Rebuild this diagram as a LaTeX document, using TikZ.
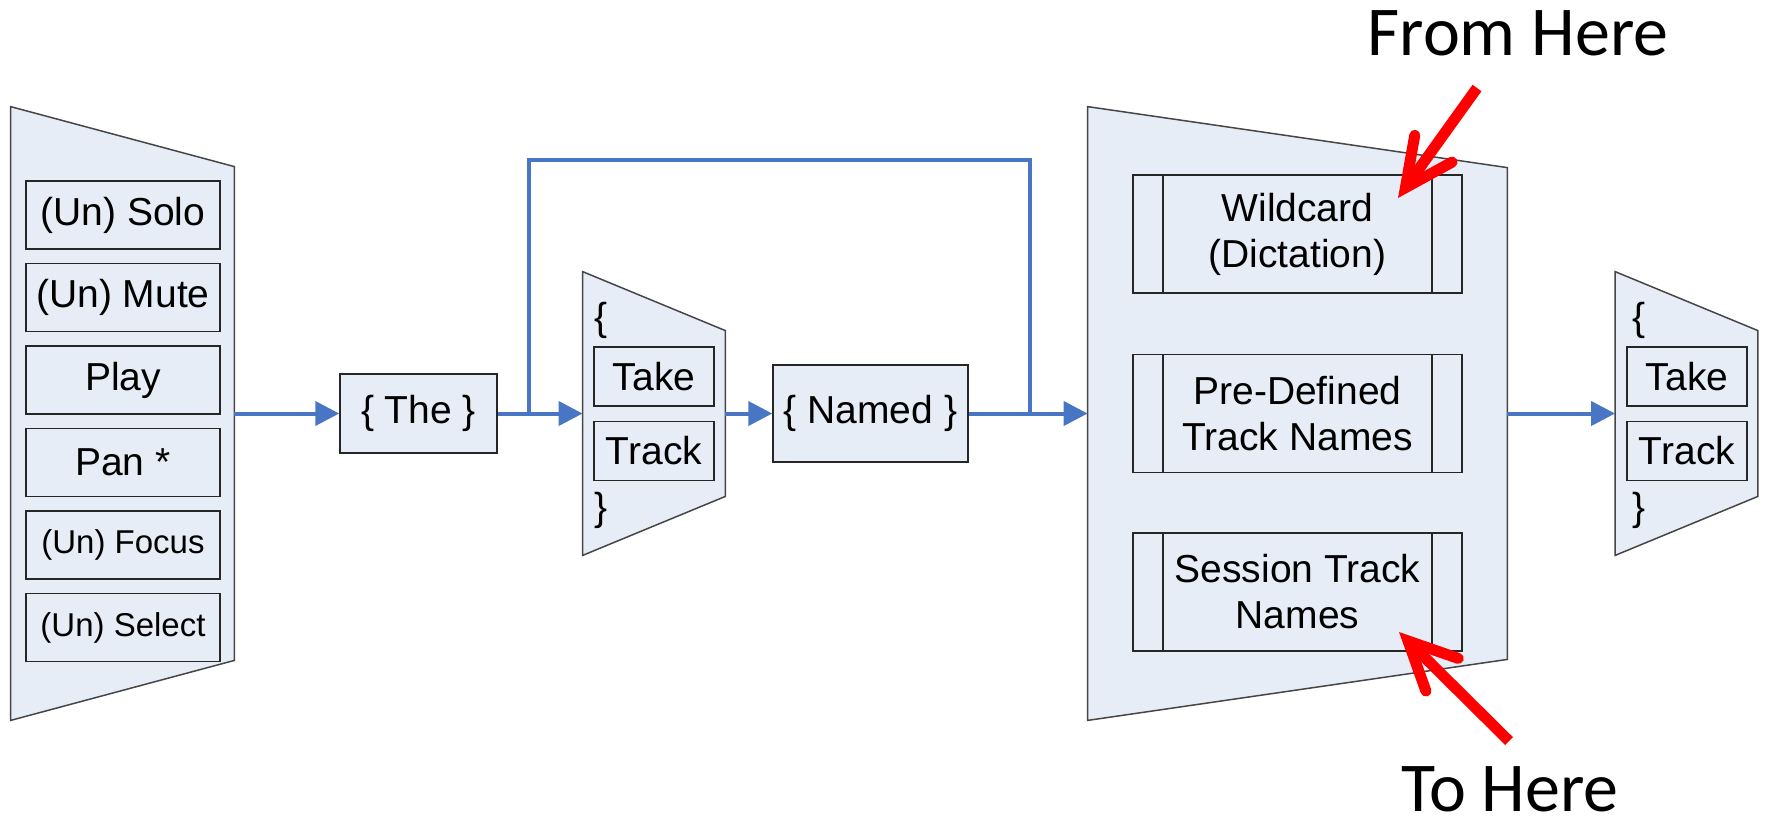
\documentclass[tikz,border=0pt]{standalone}
\usepackage{fontspec}
\setmainfont{Liberation Sans}
\newfontfamily\notefont{Carlito}
\usetikzlibrary{arrows.meta}

\definecolor{flowblue}{RGB}{72,118,196}
\definecolor{panelfill}{RGB}{231,237,247}
\definecolor{edgegray}{RGB}{70,70,70}

\begin{document}
\begin{tikzpicture}[x=0.5pt, y=-0.5pt,
  font=\fontsize{19.5}{23}\selectfont,
  hold/.style 2 args={inner sep=0pt, minimum width=#1, minimum height=#2},
  panel/.style={fill=panelfill, draw=edgegray, line width=0.75pt},
  item/.style={draw=black!85, fill=panelfill, line width=0.75pt, inner sep=0pt,
    minimum width=97pt, minimum height=34pt},
  word/.style={item, minimum width=60pt, minimum height=29.5pt},
  proc/.style={item, align=center, minimum width=164.5pt, minimum height=59pt,
    path picture={
      \draw[black!85, line width=0.75pt]
        ([xshift=15pt]path picture bounding box.north west) -- ([xshift=15pt]path picture bounding box.south west)
        ([xshift=-15pt]path picture bounding box.north east) -- ([xshift=-15pt]path picture bounding box.south east);}},
  brace/.style={anchor=west, inner sep=0pt},
  small/.style={font=\fontsize{16.5}{20}\selectfont},
  note/.style={anchor=base, inner sep=0pt, font=\notefont\fontsize{35}{40}\selectfont},
  link/.style={draw=flowblue, line width=2pt},
  flow/.style={link, -{Triangle[length=12pt,width=12pt]}},
  marker/.style={draw=red, line width=5.5pt,
    -{Straight Barb[length=24pt,width=23pt,line cap=round,line join=miter]}}]

\useasboundingbox (0,0) rectangle (1767,827);

% command list
\node[hold={111.5pt}{306.5pt}] (cmds) at (122.5,413.5) {};
\draw[panel] (cmds.north west) -- ([yshift=-30pt]cmds.north east) -- ([yshift=30pt]cmds.south east) -- (cmds.south west) -- cycle;
\node[item] (solo) at (123,215) {(Un) Solo};
\node[item] (mute) at (123,297.5) {(Un) Mute};
\node[item] (play) at (123,380) {Play};
\node[item] (pan) at (123,462.5) {Pan *};
\node[item, small] (focus) at (123,545) {(Un) Focus};
\node[item, small] (select) at (123,627.5) {(Un) Select};

\node[item, minimum width=78.5pt, minimum height=39.5pt] (the) at (418.5,413.5) {\{ The \}};

% take / track
\node[hold={71pt}{141.5pt}] (kind) at (654,413.5) {};
\draw[panel] (kind.north west) -- ([yshift=-29.5pt]kind.north east) -- ([yshift=29.5pt]kind.south east) -- (kind.south west) -- cycle;
\node[brace] (kindopen) at (594,320) {\{};
\node[word] (take) at (654,376.5) {Take};
\node[word] (track) at (654,451) {Track};
\node[brace] (kindclose) at (594,510) {\}};

\node[item, minimum width=97.5pt, minimum height=48.5pt] (named) at (870.5,413.5) {\{ Named \}};

% track name sources
\node[hold={209.5pt}{306.5pt}] (names) at (1297.5,413.5) {};
\draw[panel] (names.north west) -- ([yshift=-30.5pt]names.north east) -- ([yshift=30.5pt]names.south east) -- (names.south west) -- cycle;
\node[proc] (wild) at (1297.5,234) {Wildcard\\(Dictation)};
\node[proc] (predef) at (1297.5,413.5) {Pre-Defined\\Track Names};
\node[proc] (session) at (1297.5,592) {Session Track\\Names};

% trailing take / track
\node[hold={71pt}{141.5pt}] (kindb) at (1686.5,413.5) {};
\draw[panel] (kindb.north west) -- ([yshift=-29.5pt]kindb.north east) -- ([yshift=29.5pt]kindb.south east) -- (kindb.south west) -- cycle;
\node[brace] (kindbopen) at (1632,320) {\{};
\node[word] (takeb) at (1687,376.5) {Take};
\node[word] (trackb) at (1687,451) {Track};
\node[brace] (kindbclose) at (1632,510) {\}};

% flow
\coordinate (fork) at (529,413.5);
\coordinate (merge) at (1030,413.5);
\draw[flow] (cmds.east) -- (the.west);
\draw[flow] (the.east) -- (kind.west);
\draw[flow] (kind.east) -- (named.west);
\draw[flow] (named.east) -- (names.west);
\draw[link] (fork) -- ++(0,-253.5) -| (merge);
\draw[flow] (names.east) -- (kindb.west);

% notes
\node[note] (fromhere) at (1518,55) {From Here};
\node[note] (tohere) at (1510,811) {To Here};
\coordinate (fromtail) at (1477,88);
\coordinate (fromtip) at (1398,198);
\coordinate (totail) at (1509,741);
\coordinate (totip) at (1399,632);
\draw[marker] (fromtail) -- (fromtip);
\draw[marker] (totail) -- (totip);

\end{tikzpicture}
\end{document}
